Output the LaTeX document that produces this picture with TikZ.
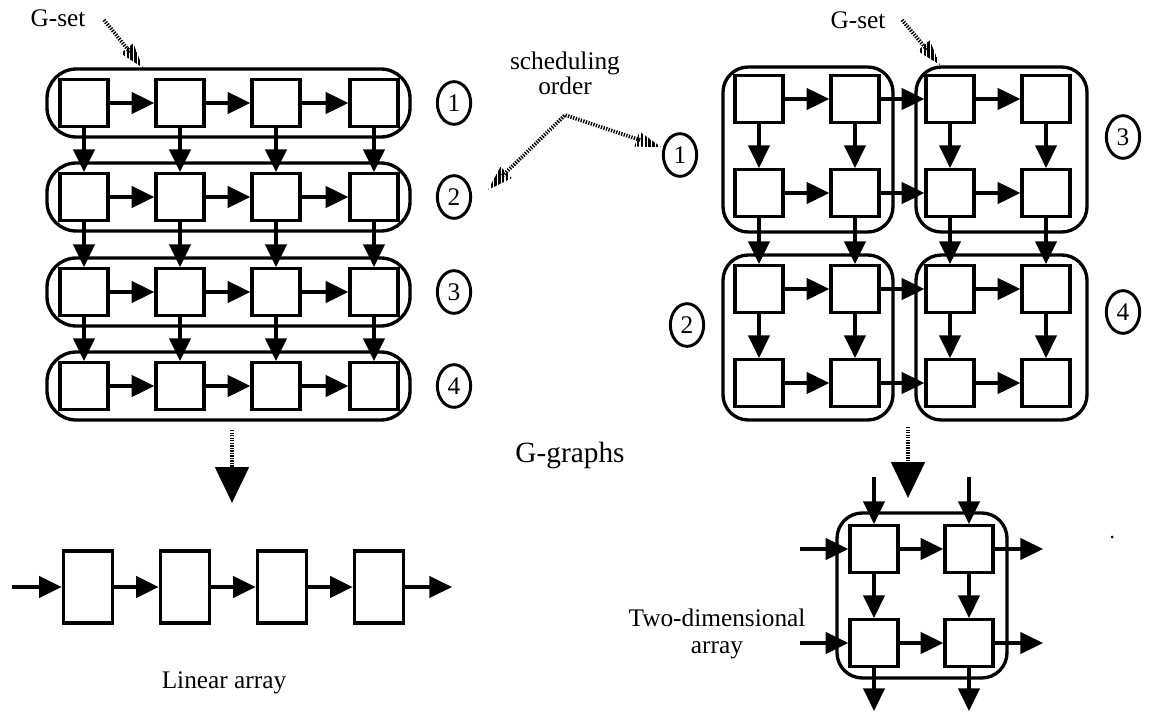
\documentclass[tikz,border=0pt]{standalone}
\usepackage{fontspec}
\setmainfont{Liberation Serif}
\usetikzlibrary{arrows.meta,calc,shapes.geometric}

% hatched pointer head: #1 = tip, #2 = a point back along the shaft
\newcommand\hatchtip[2]{%
  \begin{scope}
    \clip (#1) -- ($(#1)!19pt!(#2)!6pt!90:(#1)$) -- ($(#1)!19pt!(#2)!6pt!-90:(#1)$) -- cycle;
    \foreach \k in {-10,...,10}
      \draw[line width=1.8pt] ($(#1)+(\k*3.8,-30)$) -- ++(0,60);
  \end{scope}}

\begin{document}
\begin{tikzpicture}[x=0.75pt,y=-0.75pt,line width=2.5pt,
  box/.style={draw,fill=white,minimum width=36pt,minimum height=35pt,inner sep=0pt},
  tallbox/.style={draw,fill=white,minimum width=37pt,minimum height=54pt,inner sep=0pt},
  grp/.style={draw,rounded corners=22pt},
  blk/.style={draw,rounded corners=19pt},
  arr/.style={-{Triangle[length=17pt,width=16pt]}},
  bigarr/.style={dash pattern=on 1pt off 0.9pt,line width=3pt,-{Triangle[length=27pt,width=25pt]}},
  dots/.style={dash pattern=on 1pt off 1pt,line width=2.8pt},
  num/.style={draw,ellipse,minimum width=25pt,minimum height=32pt,inner sep=0pt,line width=2.2pt,font=\fontsize{19}{19}\selectfont},
  lbl/.style={font=\fontsize{19}{19}\selectfont,inner sep=0pt}]
\useasboundingbox (0,0) rectangle (1153,713);

% ---------- G-graph with row G-sets (linear array) ----------
\foreach \r/\y in {1/103,2/197,3/292,4/386} {
  \draw[grp] (47,\y-34) rectangle (410,\y+34);
  \foreach \c/\x in {1/84,2/180,3/276,4/374}
    \node[box] (L\r\c) at (\x,\y) {};
}
\foreach \r in {1,...,4}
  \foreach \c/\n in {1/2,2/3,3/4}
    \draw[arr] (L\r\c) -- (L\r\n);
\foreach \r/\n in {1/2,2/3,3/4}
  \foreach \c in {1,...,4}
    \draw[arr] (L\r\c) -- (L\n\c);

\node[num] (n1) at (454,103) {1};
\node[num] (n2) at (454,197) {2};
\node[num] (n3) at (454,292) {3};
\node[num] (n4) at (454,386) {4};

% ---------- G-graph with block G-sets (2-D array) ----------
\draw[blk] (723,67) rectangle (893,232);
\draw[blk] (916,67) rectangle (1087,232);
\draw[blk] (723,255) rectangle (893,420);
\draw[blk] (916,255) rectangle (1087,420);
\foreach \r/\y in {1/99,2/193,3/289,4/383}
  \foreach \c/\x in {1/759,2/855,3/950,4/1046}
    \node[box] (R\r\c) at (\x,\y) {};
\foreach \r in {1,...,4}
  \foreach \c/\n in {1/2,2/3,3/4}
    \draw[arr] (R\r\c) -- (R\r\n);
\foreach \r/\n in {1/2,2/3,3/4}
  \foreach \c in {1,...,4}
    \draw[arr] (R\r\c) -- (R\n\c);

\node[num] (m1) at (680,155) {1};
\node[num] (m2) at (687,325) {2};
\node[num] (m3) at (1123,137) {3};
\node[num] (m4) at (1123,312) {4};

% ---------- labels and pointers ----------
\node[lbl] (gsetL) at (58,18) {G-set};
\node[lbl] (gsetR) at (858,20) {G-set};
\node[lbl] (sched1) at (565,63) {scheduling};
\node[lbl] (sched2) at (565,86) {order};
\node[font=\fontsize{22}{22}\selectfont,inner sep=0pt] (ggraphs) at (570,455) {G-graphs};

\coordinate (pL0) at (104,20);
\coordinate (pL1) at (143,68);
\draw[dots] (pL0) -- ($(pL1)!15pt!(pL0)$);
\hatchtip{pL1}{pL0}

\coordinate (pR0) at (902,20);
\coordinate (pR1) at (940,65);
\draw[dots] (pR0) -- ($(pR1)!15pt!(pR0)$);
\hatchtip{pR1}{pR0}

\coordinate (sPeak) at (565,115);
\coordinate (sL) at (488,190);
\coordinate (sR) at (661,147);
\draw[dots] ($(sL)!15pt!(sPeak)$) -- (sPeak) -- ($(sR)!15pt!(sPeak)$);
\hatchtip{sL}{sPeak}
\hatchtip{sR}{sPeak}

% ---------- mapping arrows ----------
\coordinate (dL0) at (232,430);
\coordinate (dL1) at (232,503);
\draw[bigarr] (dL0) -- (dL1);
\coordinate (dR0) at (908,427);
\coordinate (dR1) at (908,498);
\draw[bigarr] (dR0) -- (dR1);

% ---------- linear array ----------
\foreach \c/\x in {1/88,2/185,3/282,4/379}
  \node[tallbox] (A\c) at (\x,587) {};
\coordinate (ain) at (12,587);
\coordinate (aout) at (452,587);
\draw[arr] (ain) -- (A1);
\draw[arr] (A1) -- (A2);
\draw[arr] (A2) -- (A3);
\draw[arr] (A3) -- (A4);
\draw[arr] (A4) -- (aout);
\node[lbl] (linlbl) at (224,683) {Linear array};

% ---------- two-dimensional array ----------
\draw[blk] (837,513) rectangle (1007,678);
\node[box] (T11) at (874,549) {};
\node[box] (T12) at (969,549) {};
\node[box] (T21) at (874,643) {};
\node[box] (T22) at (969,643) {};
\coordinate (tin1) at (874,477);
\coordinate (tin2) at (969,477);
\coordinate (lin1) at (800,549);
\coordinate (lin2) at (800,643);
\coordinate (rout1) at (1043,549);
\coordinate (rout2) at (1043,643);
\coordinate (bout1) at (874,711);
\coordinate (bout2) at (969,711);
\draw[arr] (tin1) -- (T11);
\draw[arr] (tin2) -- (T12);
\draw[arr] (lin1) -- (T11);
\draw[arr] (lin2) -- (T21);
\draw[arr] (T11) -- (T12);
\draw[arr] (T21) -- (T22);
\draw[arr] (T11) -- (T21);
\draw[arr] (T12) -- (T22);
\draw[arr] (T12) -- (rout1);
\draw[arr] (T22) -- (rout2);
\draw[arr] (T21) -- (bout1);
\draw[arr] (T22) -- (bout2);
\node[lbl] (twolbl1) at (717,618) {Two-dimensional};
\node[lbl] (twolbl2) at (717,650) {array};

\fill (1112,537) circle (1.5);
\end{tikzpicture}
\end{document}
